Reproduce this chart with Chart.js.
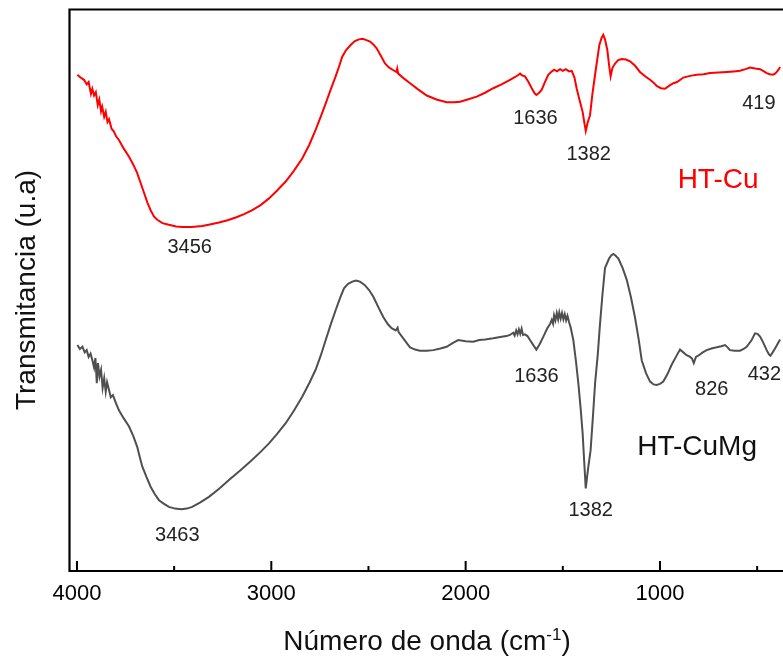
<!DOCTYPE html>
<html>
<head>
<meta charset="utf-8">
<script src="https://cdn.jsdelivr.net/npm/chart.js@4/dist/chart.umd.min.js"></script>
<style>
  html, body { margin: 0; padding: 0; background: #fff; }
  #wrap { width: 783px; height: 658px; }
</style>
</head>
<body>
<div id="wrap"><canvas id="c" width="783" height="658"></canvas></div>
<script>
// Wavenumber axis ticks (cm-1)
const xTickValues = [4000, 3000, 2000, 1000];
const xMinorTicks = [3500, 2500, 1500, 500];

// Series names
const seriesNames = ['HT-Cu', 'HT-CuMg'];

// HT-Cu spectrum: wavenumber (cm-1) and transmittance (a.u.)
const redWave = [3998,3985,3964,3950,3940,3928,3921,3912,3903,3893,3885,3876,3870,3860,3852,3843,3835,3822,3810,3798,
  3784,3760,3732,3710,3690,3672,3655,3638,3621,3604,3587,3560,3527,3490,3456,3410,3355,3310,3269,3225,
  3183,3140,3098,3055,3012,2970,2926,2884,2841,2805,2772,2745,2720,2695,2669,2650,2635,2615,2592,2570,
  2549,2530,2514,2492,2475,2458,2435,2415,2395,2372,2356,2352,2347,2320,2286,2245,2200,2150,2098,2060,
  2029,1990,1943,1900,1858,1815,1772,1745,1728,1720,1710,1695,1678,1660,1645,1636,1622,1609,1592,1575,
  1560,1545,1530,1514,1500,1485,1468,1454,1440,1429,1414,1398,1388,1382,1372,1360,1348,1334,1322,1312,
  1300,1292,1283,1271,1262,1254,1245,1231,1215,1197,1175,1154,1128,1103,1075,1051,1030,1017,995,974,
  950,931,912,880,845,811,775,743,700,657,620,588,560,537,510,485,465,451,435,419,408,399,390,382];
const redT = [88.3,87.9,87.4,86.6,87.0,84.9,85.8,84.6,85.2,82.9,83.9,81.8,82.6,80.8,81.7,79.9,80.4,78.7,78.2,77.3,
  76.7,75.2,73.7,72.3,70.8,69.0,67.3,65.6,64.2,63.1,62.5,61.9,61.6,61.3,61.2,61.2,61.4,61.7,62.0,62.4,
  62.9,63.5,64.2,65.1,66.3,67.7,69.3,71.2,73.4,75.8,78.5,80.9,83.2,85.6,88.0,89.9,91.5,92.7,93.6,94.3,
  94.6,94.7,94.5,94.2,93.7,93.0,91.6,90.3,89.6,89.1,88.8,89.4,88.5,87.7,86.8,85.7,84.6,83.9,83.4,83.4,
  83.5,83.9,84.4,85.1,85.9,86.6,87.4,87.9,88.3,88.5,88.2,88.0,87.1,85.9,85.0,84.7,85.1,85.6,87.0,88.3,
  88.8,89.2,88.9,89.3,89.0,89.3,88.9,89.0,87.8,85.9,83.8,81.7,79.5,78.3,79.8,81.1,84.8,88.3,91.2,93.6,
  94.9,95.4,94.6,92.7,90.0,88.0,89.5,90.3,90.9,91.1,91.0,90.7,89.9,88.8,88.0,87.4,86.8,86.3,85.9,85.8,
  86.4,86.8,87.0,87.8,88.1,88.3,88.4,88.6,88.7,88.8,88.9,89.0,89.3,89.6,89.4,89.3,88.9,88.6,88.4,88.3,88.5,88.8,89.2,89.7];

// HT-CuMg spectrum: wavenumber (cm-1) and transmittance (a.u.)
const grayWave = [3998,3985,3972,3960,3950,3940,3930,3920,3912,3905,3898,3892,3884,3876,3868,3860,3852,3845,3835,3826,
  3815,3800,3784,3760,3732,3710,3690,3677,3664,3642,3621,3600,3578,3550,3527,3495,3463,3435,3407,3365,
  3321,3270,3218,3160,3098,3055,3012,2970,2926,2884,2841,2805,2772,2745,2720,2695,2669,2645,2626,2605,
  2583,2565,2544,2520,2497,2475,2450,2424,2400,2381,2360,2350,2345,2321,2300,2286,2260,2235,2200,2166,
  2130,2098,2065,2038,2000,1961,1930,1900,1858,1815,1790,1772,1755,1748,1740,1733,1726,1719,1712,1705,
  1695,1682,1669,1650,1636,1620,1600,1580,1565,1557,1550,1545,1538,1531,1524,1518,1511,1504,1497,1490,
  1483,1476,1468,1460,1446,1433,1420,1408,1398,1390,1382,1370,1357,1345,1334,1320,1309,1296,1283,1262,
  1250,1240,1228,1214,1192,1171,1150,1129,1110,1094,1072,1051,1033,1017,1000,983,962,940,918,897,
  880,863,845,835,826,815,803,780,760,735,708,685,665,652,640,615,588,570,554,530,
  511,498,485,468,451,440,432,420,408,395,382];
const grayT = [40.2,39.5,39.9,38.9,39.3,38.1,38.7,37.4,36.2,37.9,33.4,37.0,34.6,35.8,32.6,34.3,31.9,33.6,32.2,30.9,
  31.3,29.9,28.6,27.2,25.7,24.0,22.1,20.3,18.6,16.7,15.0,13.7,12.6,11.9,11.4,11.1,11.0,11.1,11.4,12.2,
  13.2,14.6,16.2,17.9,19.8,21.2,22.7,24.4,26.3,28.5,31.0,33.4,35.8,38.4,41.1,43.8,46.4,48.7,50.3,51.1,
  51.5,51.7,51.5,50.9,50.0,48.8,47.0,45.2,43.9,43.2,42.8,43.3,42.5,41.4,40.4,39.8,39.4,39.2,39.2,39.3,
  39.6,39.9,40.6,41.1,40.9,40.8,41.1,41.2,41.4,41.7,41.8,42.0,42.4,41.9,42.8,42.1,43.0,42.2,43.1,42.0,
  42.1,41.8,41.1,40.1,39.4,40.3,41.7,43.2,44.0,44.7,44.0,45.5,44.6,45.9,44.8,46.0,44.9,45.9,44.8,45.7,
  44.6,45.4,44.3,43.4,41.1,37.5,33.4,28.8,24.5,19.5,14.7,18.2,21.5,27.5,33.4,38.6,43.8,49.2,53.9,55.6,
  56.2,56.4,56.1,55.6,53.9,51.8,48.8,45.2,41.3,37.5,35.2,33.7,33.2,33.1,33.3,33.7,35.0,36.7,38.1,39.4,
  38.9,38.4,38.1,37.8,37.0,38.1,38.3,38.9,39.3,39.6,39.8,40.0,40.2,39.8,39.3,39.2,39.2,39.5,39.9,41.0,
  42.3,42.2,41.7,40.6,39.3,38.6,38.3,38.9,39.6,40.4,41.2];

// Band assignments shown on each spectrum (cm-1)
const redPeaks = [3456, 1636, 1382, 419];
const grayPeaks = [3463, 1636, 1382, 826, 432];

// Where each band label sits relative to its band (pixels)
const redPeakOffsets = [[7, 20], [-1, 23], [3, 24], [-14, 29]];
const grayPeakOffsets = [[-4, 26], [0, 27], [5, 22], [18, 26], [-6, 19]];

// Series name positions in data units (wavenumber, transmittance)
const seriesLabelAt = [[701, 69.6], [809, 22.1]];

const FONT = "'Liberation Sans', Arial, Helvetica, sans-serif";

const spectrumDecor = {
  id: 'spectrumDecor',
  afterDatasetsDraw(chart) {
    const { ctx, chartArea: a, scales: { x, y } } = chart;
    ctx.save();

    // frame: top, left and bottom edges
    ctx.strokeStyle = '#000';
    ctx.lineWidth = 2.2;
    ctx.beginPath();
    ctx.moveTo(a.left - 0.6, a.top + 0.5); ctx.lineTo(chart.width, a.top + 0.5);
    ctx.moveTo(a.left + 0.5, a.top); ctx.lineTo(a.left + 0.5, a.bottom);
    ctx.moveTo(a.left - 0.6, a.bottom); ctx.lineTo(chart.width, a.bottom);
    ctx.stroke();

    // inward tick marks
    ctx.lineWidth = 2;
    ctx.beginPath();
    xTickValues.forEach(v => {
      const px = x.getPixelForValue(v);
      ctx.moveTo(px, a.bottom); ctx.lineTo(px, a.bottom - 10);
    });
    xMinorTicks.forEach(v => {
      const px = x.getPixelForValue(v);
      ctx.moveTo(px, a.bottom); ctx.lineTo(px, a.bottom - 5);
    });
    ctx.stroke();

    // band labels
    ctx.font = '20px ' + FONT;
    ctx.fillStyle = '#222';
    ctx.textAlign = 'center';
    ctx.textBaseline = 'middle';
    const drawPeaks = (waves, T, peaks, offsets) => {
      peaks.forEach((p, i) => {
        const idx = waves.indexOf(p);
        const px = x.getPixelForValue(p);
        const py = y.getPixelForValue(T[idx]);
        ctx.fillText(String(p), px + offsets[i][0], py + offsets[i][1]);
      });
    };
    drawPeaks(redWave, redT, redPeaks, redPeakOffsets);
    drawPeaks(grayWave, grayT, grayPeaks, grayPeakOffsets);

    // series names
    ctx.font = '28px ' + FONT;
    const nameColors = ['#ff0000', '#111'];
    seriesNames.forEach((n, i) => {
      ctx.fillStyle = nameColors[i];
      ctx.fillText(n, x.getPixelForValue(seriesLabelAt[i][0]), y.getPixelForValue(seriesLabelAt[i][1]));
    });

    // axis titles
    ctx.fillStyle = '#111';
    ctx.textBaseline = 'alphabetic';
    ctx.textAlign = 'left';
    const big = '28px ' + FONT, small = '17px ' + FONT;
    const partA = 'Número de onda (cm', sup = '-1', partB = ')';
    ctx.font = big; const wA = ctx.measureText(partA).width, wB = ctx.measureText(partB).width;
    ctx.font = small; const wS = ctx.measureText(sup).width;
    const total = wA + wS + wB;
    let tx = (a.left + chart.width) / 2 - total / 2 + 1;
    const base = 650;
    ctx.font = big; ctx.fillText(partA, tx, base); tx += wA;
    ctx.font = small; ctx.fillText(sup, tx, base - 10); tx += wS;
    ctx.font = big; ctx.fillText(partB, tx, base);

    ctx.save();
    ctx.translate(35, (a.top + a.bottom) / 2);
    ctx.rotate(-Math.PI / 2);
    ctx.textAlign = 'center';
    ctx.font = big;
    ctx.fillText('Transmitancia (u.a)', 0, 0);
    ctx.restore();

    ctx.restore();
  }
};

new Chart(document.getElementById('c'), {
  type: 'line',
  data: {
    datasets: [
      {
        label: seriesNames[0],
        data: redWave.map((w, i) => ({ x: w, y: redT[i] })),
        borderColor: '#ff0000',
        borderWidth: 2,
        pointRadius: 0,
        fill: false,
        tension: 0
      },
      {
        label: seriesNames[1],
        data: grayWave.map((w, i) => ({ x: w, y: grayT[i] })),
        borderColor: '#4f4f4f',
        borderWidth: 2,
        pointRadius: 0,
        fill: false,
        tension: 0
      }
    ]
  },
  options: {
    responsive: false,
    animation: false,
    devicePixelRatio: 1,
    layout: { padding: { top: 9, left: 0, right: 0, bottom: 0 } },
    plugins: { legend: { display: false }, tooltip: { enabled: false } },
    scales: {
      x: {
        type: 'linear',
        reverse: true,
        min: 367,
        max: 4041,
        afterBuildTicks: s => { s.ticks = xTickValues.map(v => ({ value: v })); },
        afterFit: s => { s.height = 87; },
        grid: { display: false, drawTicks: false },
        border: { display: false },
        ticks: {
          color: '#000',
          font: { family: FONT, size: 22 },
          padding: 10,
          maxRotation: 0,
          autoSkip: false,
          callback: v => String(v)
        }
      },
      y: {
        min: 0,
        max: 100,
        afterFit: s => { s.width = 69; },
        grid: { display: false, drawTicks: false },
        border: { display: false },
        ticks: { display: false }
      }
    }
  },
  plugins: [spectrumDecor]
});
</script>
</body>
</html>
